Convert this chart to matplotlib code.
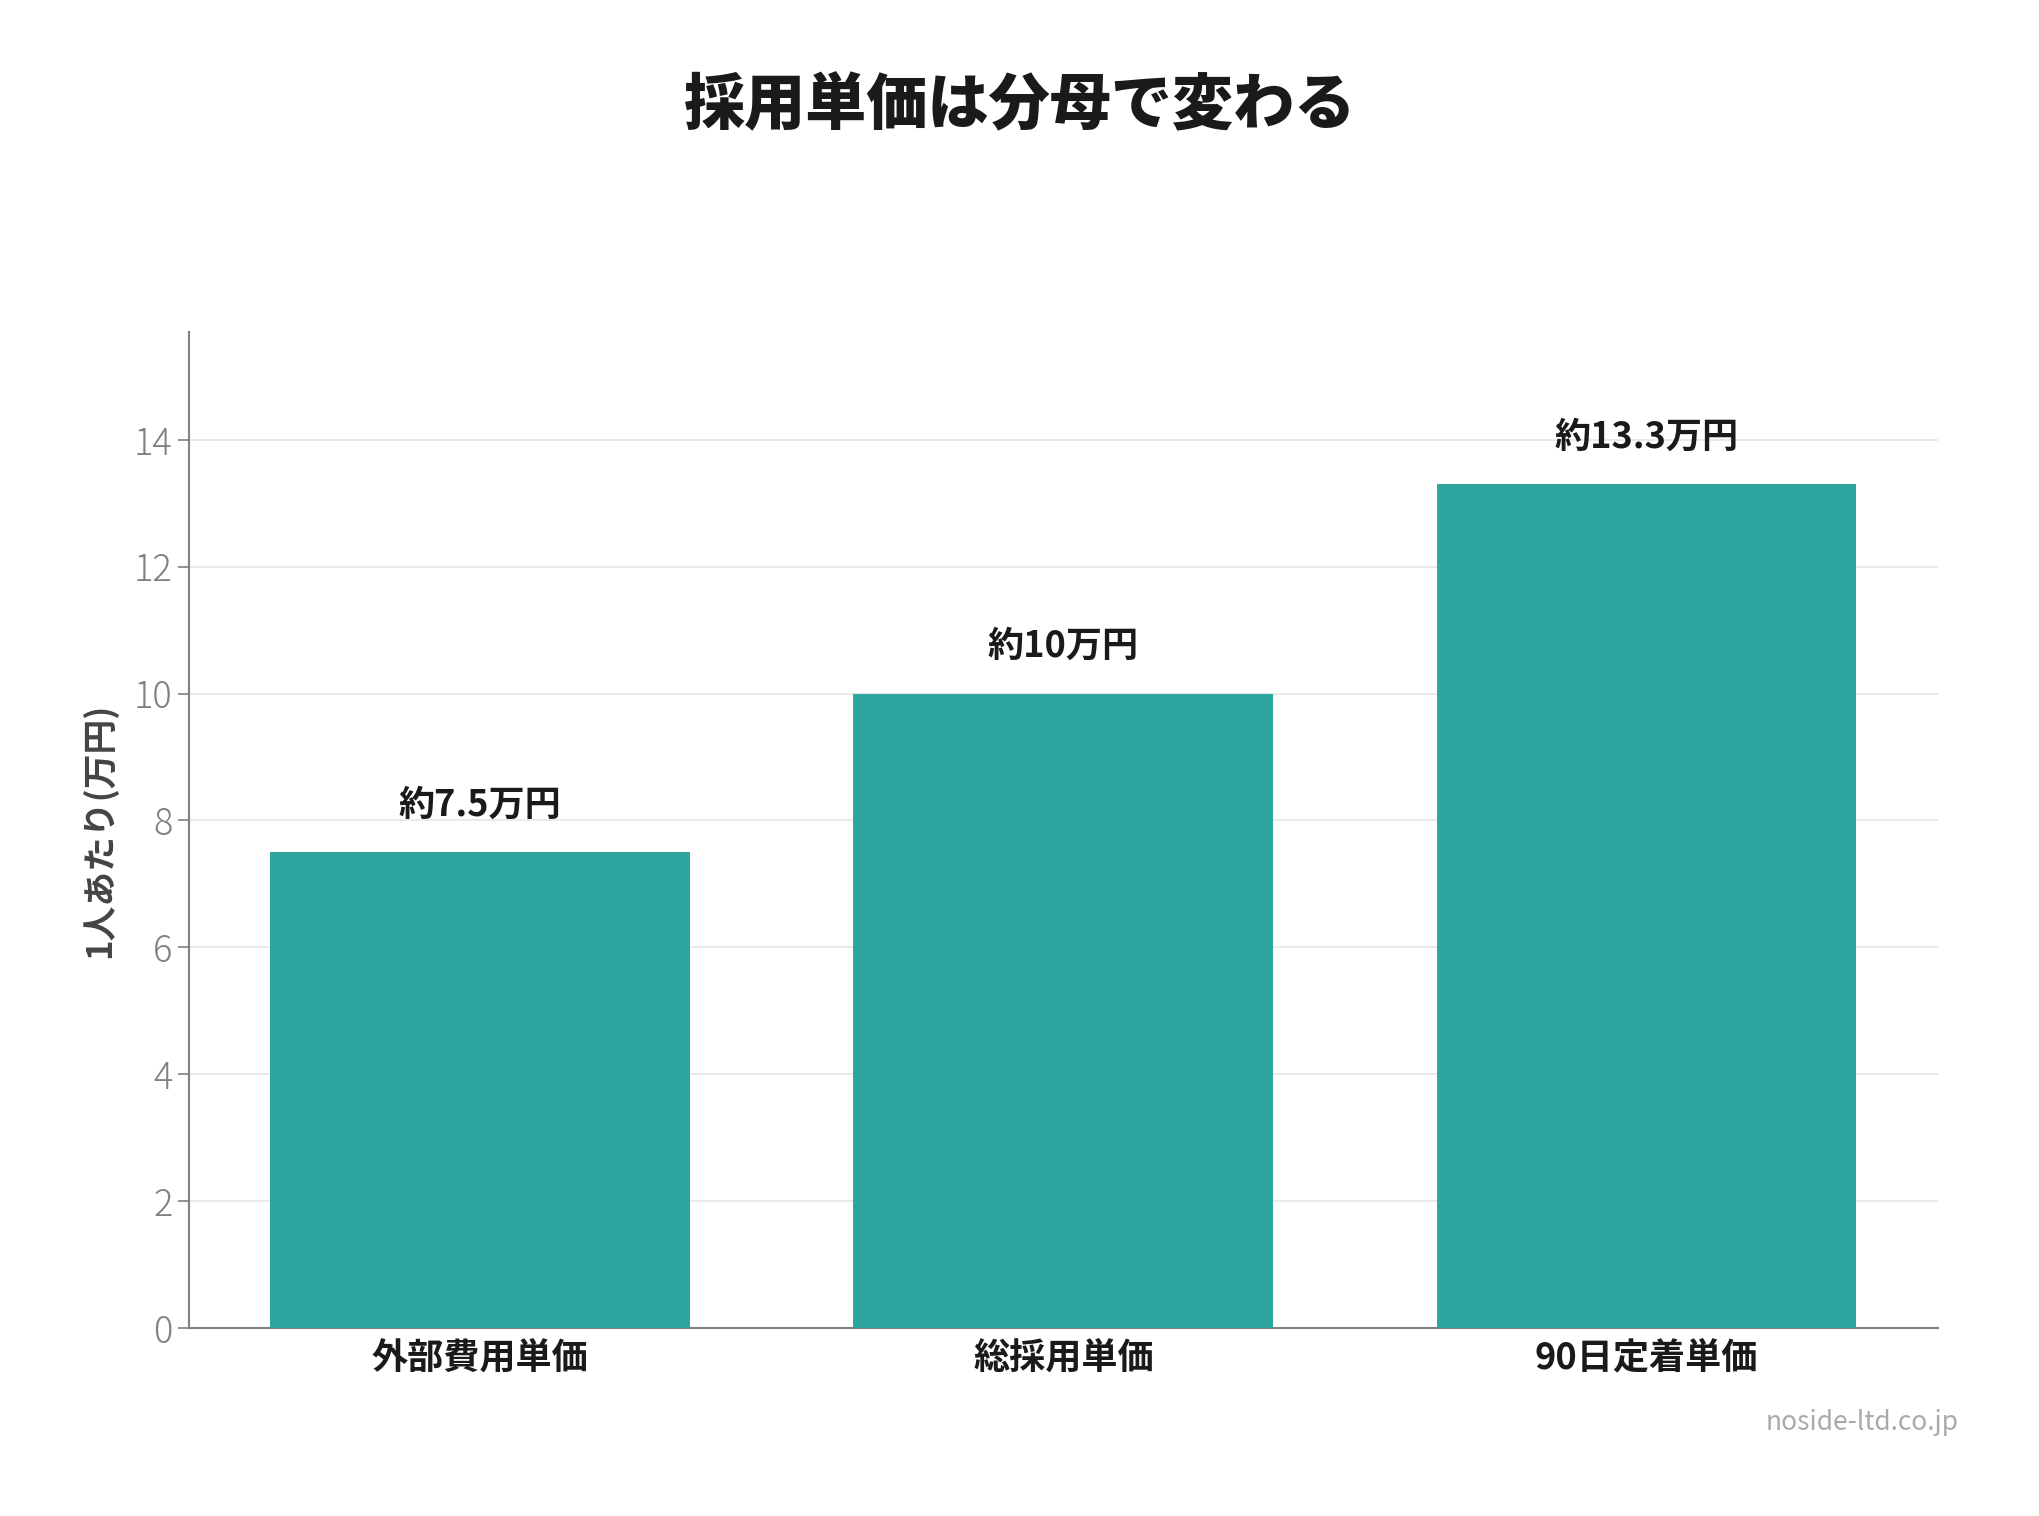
import matplotlib.pyplot as plt

plt.rcParams['font.family'] = ['Noto Sans CJK JP', 'DejaVu Sans']

categories = ['外部費用単価', '総採用単価', '90日定着単価']
values = [7.5, 10.0, 13.3]
labels = ['約7.5万円', '約10万円', '約13.3万円']

fig = plt.figure(figsize=(20.4, 15.16), dpi=100)
ax = fig.add_axes([0.0925, 0.124, 0.8575, 0.657])

ax.bar(range(len(categories)), values, width=0.72, color='#2ea59e', zorder=3)
for i, (v, t) in enumerate(zip(values, labels)):
    ax.text(i, v + 0.45, t, ha='center', va='bottom', fontsize=26,
            fontweight='bold', color='#1a1a1a')

ax.set_xlim(-0.5, 2.5)
ax.set_ylim(0, 15.7)
ax.set_yticks(range(0, 15, 2))
ax.set_xticks(range(len(categories)))
ax.set_xticklabels(categories, fontsize=26, fontweight='bold', color='#1a1a1a')
ax.tick_params(axis='x', length=0, pad=8)
ax.tick_params(axis='y', labelsize=26, labelcolor='#808080', color='#808080',
               length=8, width=1.2)
for lab in ax.get_yticklabels():
    lab.set_fontweight('light')
ax.yaxis.grid(True, color='#e6e6e6', linewidth=1.2, zorder=0)
ax.set_axisbelow(True)
for s in ['top', 'right']:
    ax.spines[s].set_visible(False)
for s in ['left', 'bottom']:
    ax.spines[s].set_color('#808080')
    ax.spines[s].set_linewidth(1.5)

ax.set_ylabel('1人あたり(万円)', fontsize=25, fontweight='bold', color='#444444',
              labelpad=12)

fig.text(0.5, 0.93, '採用単価は分母で変わる', ha='center', va='center',
         fontsize=44, fontweight='heavy', color='#1a1a1a')
fig.text(0.96, 0.062, 'noside-ltd.co.jp', ha='right', va='center',
         fontsize=19, color='#aaaaaa')

fig.savefig('out.png', dpi=100)
